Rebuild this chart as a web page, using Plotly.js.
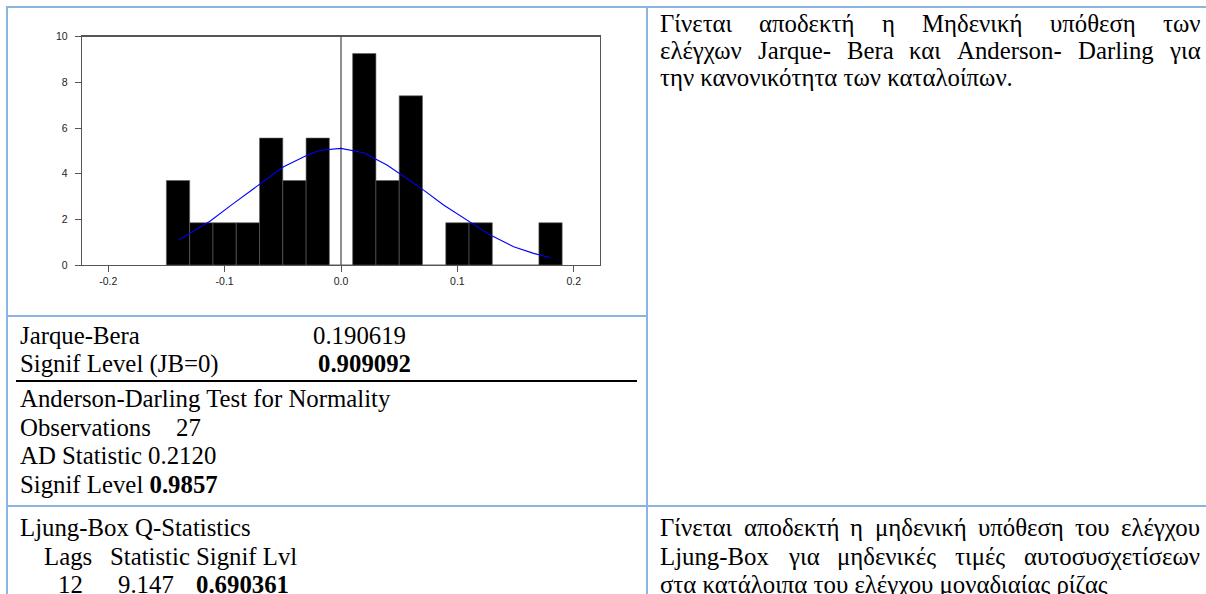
<!DOCTYPE html>
<html>
<head>
<meta charset="utf-8">
<script src="https://cdn.plot.ly/plotly-3.0.1.min.js"></script>
<style>
  html, body { margin: 0; padding: 0; background: #ffffff; }
  #chart { width: 1206px; height: 594px; }
</style>
</head>
<body>
<div id="chart"></div>
<script>
// ---- Residual histogram (density scale, bin width 0.02) ----
const binCenters = [-0.14, -0.12, -0.10, -0.08, -0.06, -0.04, -0.02, 0.00, 0.02, 0.04, 0.06, 0.08, 0.10, 0.12, 0.14, 0.16, 0.18];
const binDensity = [3.70, 1.85, 1.85, 1.85, 5.56, 3.70, 5.56, 0, 9.26, 3.70, 7.41, 0, 1.85, 1.85, 0, 0, 1.85];

// ---- Fitted normal density overlay ----
const curveX = [-0.1395, -0.1123, -0.0923, -0.0693, -0.0493, -0.0292, -0.0178, 0.0000, 0.0194, 0.0395, 0.0710, 0.0881, 0.1082, 0.1283, 0.1483, 0.1655, 0.1798];
const curveY = [1.09, 1.93, 2.70, 3.57, 4.30, 4.81, 5.03, 5.11, 4.92, 4.38, 3.28, 2.63, 1.97, 1.31, 0.80, 0.51, 0.32];

// ---- Axis ticks ----
const xTickVals = [-0.2, -0.1, 0.0, 0.1, 0.2];
const xTickText = ['-0.2', '-0.1', '0.0', '0.1', '0.2'];
const yTickVals = [0, 2, 4, 6, 8, 10];
const yTickText = ['0', '2', '4', '6', '8', '10'];

// ---- Test output text ----
const jbLabels = ['Jarque-Bera', 'Signif Level (JB=0)'];
const jbValues = ['0.190619', '<b>0.909092</b>'];
const adLines = ['Anderson-Darling Test for Normality', 'Observations', 'AD Statistic 0.2120', 'Signif Level <b>0.9857</b>'];
const adObs = '27';
const lbTitle = 'Ljung-Box Q-Statistics';
const lbHeader = ['Lags', 'Statistic', 'Signif Lvl'];
const lbRow = ['12', '9.147', '<b>0.690361</b>'];
const noteTop = [
  'Γίνεται αποδεκτή η Μηδενική υπόθεση των',
  'ελέγχων Jarque- Bera και Anderson- Darling για',
  'την κανονικότητα των καταλοίπων.'
];
const noteBottom = [
  'Γίνεται αποδεκτή η μηδενική υπόθεση του ελέγχου',
  'Ljung-Box για μηδενικές τιμές αυτοσυσχετίσεων',
  'στα κατάλοιπα του ελέγχου μοναδιαίας ρίζας'
];

// ---- Page geometry (pixels) ----
const W = 1206, H = 594;
const px = x => x / W;
const py = y => 1 - y / H;
const FONT = 'Liberation Serif';
const FS = 24.8;
const BORDER = '#8db3e2';

const canvas = document.createElement('canvas');
const ctx = canvas.getContext('2d');
function textWidth(str) {
  ctx.font = FS + 'px "Liberation Serif"';
  return ctx.measureText(str).width;
}

const annotations = [];
// text placed by its baseline
function addText(str, x, baseline) {
  annotations.push({
    text: str, x: px(x - 2), y: py(baseline - FS * 0.34),
    xref: 'paper', yref: 'paper', xanchor: 'left', yanchor: 'middle',
    showarrow: false, font: { family: FONT, size: FS, color: '#000000' }
  });
}
// a justified line: words spread evenly between x0 and x1
function addJustified(line, x0, x1, baseline) {
  const words = line.split(' ');
  const widths = words.map(w => textWidth(w));
  const total = widths.reduce((a, b) => a + b, 0);
  const gap = (x1 - x0 - total) / (words.length - 1);
  let x = x0;
  words.forEach((w, i) => { addText(w, x, baseline); x += widths[i] + gap; });
}

// left column
const LX = 20;
addText(jbLabels[0], LX, 344); addText(jbValues[0], 313, 344);
addText(jbLabels[1], LX, 372); addText(jbValues[1], 318, 372);
addText(adLines[0], LX, 407);
addText(adLines[1], LX, 435.5); addText(adObs, 176, 435.5);
addText(adLines[2], LX, 464);
addText(adLines[3], LX, 492.5);
addText(lbTitle, LX, 536);
addText(lbHeader[0], 44, 564.5); addText(lbHeader[1], 110, 564.5); addText(lbHeader[2], 196, 564.5);
addText(lbRow[0], 58, 593); addText(lbRow[1], 118, 593); addText(lbRow[2], 196, 593);

// right column
const RX0 = 660, RX1 = 1200;
addJustified(noteTop[0], RX0, RX1, 32);
addJustified(noteTop[1], RX0, RX1, 59);
addText(noteTop[2], RX0, 86);
addJustified(noteBottom[0], RX0, RX1, 536);
addJustified(noteBottom[1], RX0, RX1, 564.5);
addText(noteBottom[2], RX0, 593);

// table rules
const shapes = [
  { x0: 7, x1: W, y0: 7, y1: 7 },
  { x0: 7, x1: 7, y0: 6, y1: H },
  { x0: 647, x1: 647, y0: 6, y1: H },
  { x0: 7, x1: 647, y0: 316, y1: 316 },
  { x0: 7, x1: W, y0: 506, y1: 506 }
].map(s => ({
  type: 'line', xref: 'paper', yref: 'paper',
  x0: px(s.x0), x1: px(s.x1), y0: py(s.y0), y1: py(s.y1),
  line: { color: BORDER, width: 2 }, layer: 'above'
}));
shapes.push({
  type: 'line', xref: 'paper', yref: 'paper',
  x0: px(16), x1: px(637), y0: py(381), y1: py(381),
  line: { color: '#000000', width: 2 }
});
// zero reference line inside the histogram
shapes.push({
  type: 'line', xref: 'x', yref: 'paper',
  x0: 0, x1: 0, y0: py(265), y1: py(36.7),
  line: { color: '#555555', width: 1.3 }, layer: 'below'
});

const traces = [
  {
    type: 'bar', x: binCenters, y: binDensity, width: 0.02,
    marker: { color: '#000000', line: { color: '#606060', width: 0.6 } },
    hoverinfo: 'skip'
  },
  {
    type: 'scatter', mode: 'lines', x: curveX, y: curveY,
    line: { color: '#0000ff', width: 1.1 }, hoverinfo: 'skip'
  }
];

const axisCommon = {
  showgrid: false, zeroline: false, showline: true, mirror: true,
  linecolor: '#555555', linewidth: 1.3,
  ticks: 'outside', ticklen: 6, tickwidth: 1, tickcolor: '#555555',
  tickfont: { family: 'Liberation Sans', size: 10.5, color: '#222222' },
  fixedrange: true
};

const layout = {
  width: W, height: H,
  margin: { l: 0, r: 0, t: 0, b: 0 },
  paper_bgcolor: '#ffffff', plot_bgcolor: '#ffffff',
  showlegend: false,
  xaxis: Object.assign({}, axisCommon, {
    domain: [px(82), px(600)], range: [-0.2225, 0.2225],
    tickmode: 'array', tickvals: xTickVals, ticktext: xTickText
  }),
  yaxis: Object.assign({}, axisCommon, {
    domain: [py(265), py(36.7)], range: [0, 10],
    tickmode: 'array', tickvals: yTickVals, ticktext: yTickText,
    ticklabelstandoff: 5
  }),
  shapes: shapes,
  annotations: annotations
};

Plotly.newPlot('chart', traces, layout, { displayModeBar: false, staticPlot: true });
</script>
</body>
</html>
